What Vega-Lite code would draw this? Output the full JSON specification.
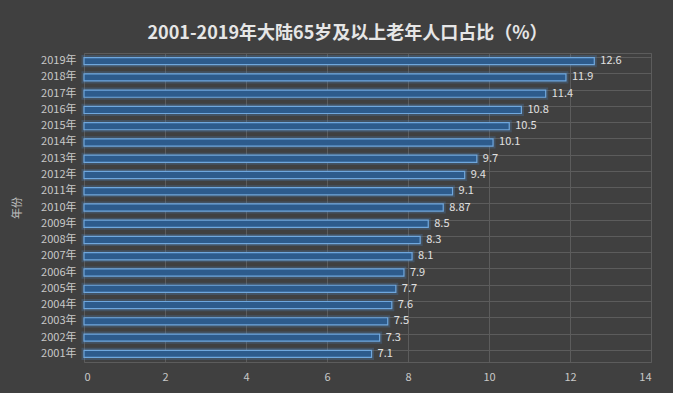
{
  "$schema": "https://vega.github.io/schema/vega-lite/v6.json",
  "width": 567,
  "height": 309,
  "autosize": {"type": "none"},
  "padding": {"left": 84, "top": 53, "right": 22, "bottom": 31},
  "background": "#404040",
  "title": {
    "text": "2001-2019年大陆65岁及以上老年人口占比（%）",
    "font": "Noto Sans CJK SC",
    "fontSize": 18,
    "fontWeight": "bold",
    "color": "#e6e6e6",
    "offset": 10,
    "dx": -20,
    "anchor": "middle"
  },
  "config": {
    "view": {"stroke": "#5c5c5c", "strokeWidth": 1},
    "font": "Noto Sans CJK SC"
  },
  "data": {
    "values": [
      {"year": "2001年", "value": 7.1, "label": "7.1"},
      {"year": "2002年", "value": 7.3, "label": "7.3"},
      {"year": "2003年", "value": 7.5, "label": "7.5"},
      {"year": "2004年", "value": 7.6, "label": "7.6"},
      {"year": "2005年", "value": 7.7, "label": "7.7"},
      {"year": "2006年", "value": 7.9, "label": "7.9"},
      {"year": "2007年", "value": 8.1, "label": "8.1"},
      {"year": "2008年", "value": 8.3, "label": "8.3"},
      {"year": "2009年", "value": 8.5, "label": "8.5"},
      {"year": "2010年", "value": 8.87, "label": "8.87"},
      {"year": "2011年", "value": 9.1, "label": "9.1"},
      {"year": "2012年", "value": 9.4, "label": "9.4"},
      {"year": "2013年", "value": 9.7, "label": "9.7"},
      {"year": "2014年", "value": 10.1, "label": "10.1"},
      {"year": "2015年", "value": 10.5, "label": "10.5"},
      {"year": "2016年", "value": 10.8, "label": "10.8"},
      {"year": "2017年", "value": 11.4, "label": "11.4"},
      {"year": "2018年", "value": 11.9, "label": "11.9"},
      {"year": "2019年", "value": 12.6, "label": "12.6"}
    ]
  },
  "encoding": {
    "y": {
      "field": "year",
      "type": "nominal",
      "sort": "descending",
      "scale": {"paddingInner": 0.56, "paddingOuter": 0.28},
      "axis": {
        "title": "年份",
        "titleColor": "#bfbfbf",
        "titleFontSize": 11,
        "titleFontWeight": "normal",
        "titlePadding": 18,
        "labelColor": "#c8c8c8",
        "labelFontSize": 11,
        "labelPadding": 8,
        "ticks": false,
        "domain": false,
        "grid": true,
        "gridColor": "#5c5c5c",
        "bandPosition": 0
      }
    },
    "x": {
      "field": "value",
      "type": "quantitative",
      "scale": {"domain": [0, 14]},
      "axis": {
        "title": null,
        "values": [0, 2, 4, 6, 8, 10, 12, 14],
        "labelColor": "#c8c8c8",
        "labelFontSize": 11,
        "labelPadding": 9,
        "ticks": false,
        "domain": false,
        "grid": true,
        "gridColor": "#5c5c5c"
      }
    }
  },
  "layer": [
    {
      "mark": {"type": "bar", "fill": null, "fillOpacity": 0, "stroke": "#4a86c8", "strokeWidth": 5, "strokeOpacity": 0.25}
    },
    {
      "mark": {"type": "bar", "fill": "#2d5b8c", "stroke": "#6fa7dd", "strokeWidth": 1.2}
    },
    {
      "mark": {"type": "text", "align": "left", "dx": 6, "fontSize": 11, "color": "#e0e0e0"},
      "encoding": {"text": {"field": "label"}}
    }
  ]
}
